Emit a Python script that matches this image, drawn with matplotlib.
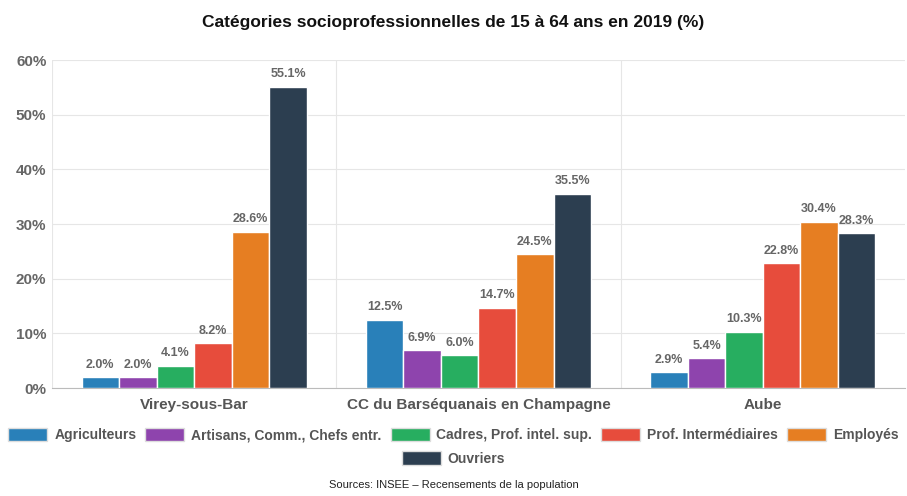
import matplotlib.pyplot as plt
import numpy as np
from matplotlib.patches import Patch

# data
places = ["Virey-sous-Bar", "CC du Barséquanais en Champagne", "Aube"]
categories = ["Agriculteurs", "Artisans, Comm., Chefs entr.", "Cadres, Prof. intel. sup.",
              "Prof. Intermédiaires", "Employés", "Ouvriers"]
agriculteurs = [2.0, 12.5, 2.9]
artisans = [2.0, 6.9, 5.4]
cadres = [4.1, 6.0, 10.3]
prof_inter = [8.2, 14.7, 22.8]
employes = [28.6, 24.5, 30.4]
ouvriers = [55.1, 35.5, 28.3]
yticks = [0, 10, 20, 30, 40, 50, 60]

series = [agriculteurs, artisans, cadres, prof_inter, employes, ouvriers]
colors = ["#2980b9", "#8e44ad", "#27ae60", "#e74c3c", "#e67e22", "#2c3e50"]

plt.rcParams['font.family'] = ['Liberation Sans', 'DejaVu Sans']

fig = plt.figure(figsize=(9.07, 4.96), dpi=100)
ax = fig.add_axes([52 / 907, 108 / 496, 853 / 907, 328 / 496])

x = np.arange(len(places))
width = 0.132
for i, (vals, col) in enumerate(zip(series, colors)):
    pos = x + (i - 2.5) * width
    ax.bar(pos, vals, width, color=col, edgecolor="white", linewidth=1, zorder=3)
    for p, v in zip(pos, vals):
        ax.text(p, v + 1.2, f"{v:.1f}%", ha="center", va="bottom",
                fontsize=9, fontweight="bold", color="#666666", zorder=4)

ax.set_xlim(-0.5, 2.5)
ax.set_ylim(0, 60)
ax.set_yticks(yticks)
ax.set_yticklabels([f"{t}%" for t in yticks], fontsize=11, fontweight="bold", color="#666666")
ax.set_xticks(x)
ax.set_xticklabels(places, fontsize=11, fontweight="bold", color="#555555")
ax.tick_params(axis="both", length=0, pad=4)
ax.tick_params(axis="x", pad=7)

ax.grid(axis="y", color="#e6e6e6", linewidth=0.8, zorder=0)
for b in [-0.5, 0.5, 1.5]:
    ax.axvline(b, color="#e6e6e6", linewidth=0.8, zorder=0)
for s in ["top", "right", "left"]:
    ax.spines[s].set_visible(False)
ax.spines["bottom"].set_color("#bbbbbb")

fig.text(0.5, 0.955, "Catégories socioprofessionnelles de 15 à 64 ans en 2019 (%)",
         ha="center", va="center", fontsize=12.5, fontweight="bold", color="#111111")

# legend: 5 on first row, Ouvriers centred below
handles = [Patch(facecolor=c, edgecolor="#dddddd") for c in colors]
leg_kw = dict(frameon=False, prop={'size': 10, 'weight': 'bold'},
              handlelength=2.8, handleheight=1.15, handletextpad=0.5)
leg1 = fig.legend(handles[:5], categories[:5], loc="center", bbox_to_anchor=(0.5, 0.123),
                  ncol=5, columnspacing=0.65, **leg_kw)
leg2 = fig.legend(handles[5:], categories[5:], loc="center", bbox_to_anchor=(0.5, 0.076),
                  ncol=1, **leg_kw)
for t in leg1.get_texts() + leg2.get_texts():
    t.set_color("#555555")

fig.text(0.5, 0.012, "Sources: INSEE – Recensements de la population", ha="center",
         va="bottom", fontsize=8, color="#222222")

fig.savefig("out.png", dpi=100)
